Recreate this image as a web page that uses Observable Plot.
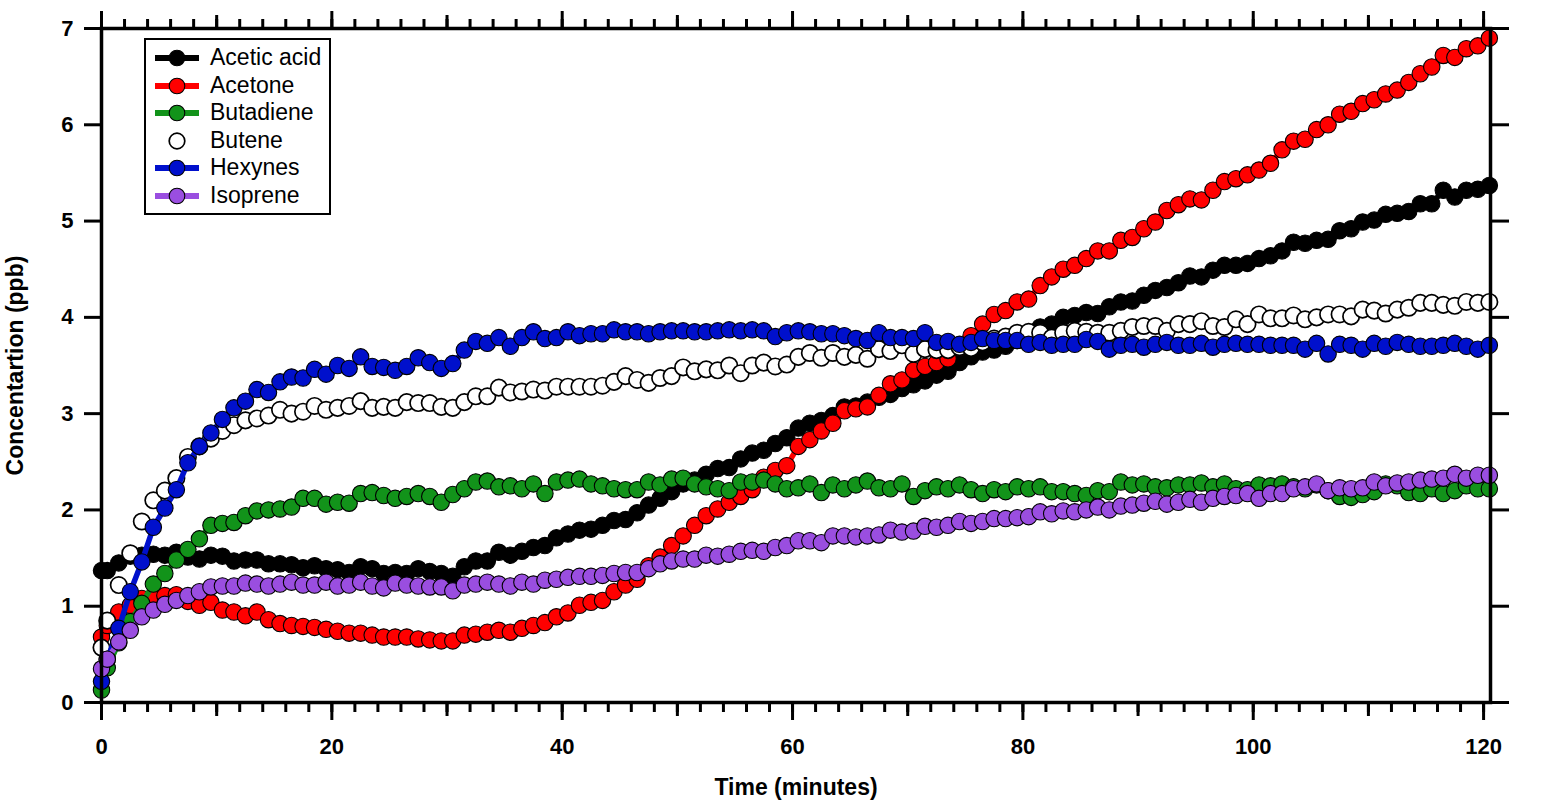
<!DOCTYPE html>
<html>
<head>
<meta charset="utf-8">
<script src="https://cdn.jsdelivr.net/npm/d3@7"></script>
<script src="https://cdn.jsdelivr.net/npm/@observablehq/plot@0.6"></script>
<style>
  html, body { margin: 0; padding: 0; background: #fff; }
  #wrap { position: relative; width: 1553px; height: 802px; font-family: "Liberation Sans", Arial, sans-serif; }
  #legend { position: absolute; left: 144px; top: 38px; width: 187px; height: 177px; box-sizing: border-box;
            border: 2px solid #000; background: #fff; }
  .lrow { position: absolute; left: 0; height: 28px; width: 183px; }
  .lrow svg { position: absolute; left: 4px; top: 0; }
  .lrow span { position: absolute; left: 64px; top: 50%; transform: translateY(-52%); font-size: 23px; color: #000; white-space: nowrap; }
</style>
</head>
<body>
<div id="wrap"><div id="chart"></div><div id="legend"></div></div>
<script>
// ---- data (minutes, ppb) ----
const time = [0, 0.5,
  1.5, 2.5, 3.5, 4.5, 5.5, 6.5, 7.5, 8.5, 9.5, 10.5,
  11.5, 12.5, 13.5, 14.5, 15.5, 16.5, 17.5, 18.5, 19.5, 20.5,
  21.5, 22.5, 23.5, 24.5, 25.5, 26.5, 27.5, 28.5, 29.5, 30.5,
  31.5, 32.5, 33.5, 34.5, 35.5, 36.5, 37.5, 38.5, 39.5, 40.5,
  41.5, 42.5, 43.5, 44.5, 45.5, 46.5, 47.5, 48.5, 49.5, 50.5,
  51.5, 52.5, 53.5, 54.5, 55.5, 56.5, 57.5, 58.5, 59.5, 60.5,
  61.5, 62.5, 63.5, 64.5, 65.5, 66.5, 67.5, 68.5, 69.5, 70.5,
  71.5, 72.5, 73.5, 74.5, 75.5, 76.5, 77.5, 78.5, 79.5, 80.5,
  81.5, 82.5, 83.5, 84.5, 85.5, 86.5, 87.5, 88.5, 89.5, 90.5,
  91.5, 92.5, 93.5, 94.5, 95.5, 96.5, 97.5, 98.5, 99.5, 100.5,
  101.5, 102.5, 103.5, 104.5, 105.5, 106.5, 107.5, 108.5, 109.5, 110.5,
  111.5, 112.5, 113.5, 114.5, 115.5, 116.5, 117.5, 118.5, 119.5, 120.5];

const aceticAcid = [1.37, 1.37,
  1.45, 1.52, 1.53, 1.54, 1.53, 1.56, 1.51, 1.49, 1.53, 1.52,
  1.47, 1.48, 1.48, 1.44, 1.44, 1.43, 1.40, 1.42, 1.39, 1.38,
  1.35, 1.41, 1.39, 1.34, 1.35, 1.34, 1.39, 1.36, 1.34, 1.31,
  1.41, 1.47, 1.47, 1.56, 1.53, 1.57, 1.61, 1.63, 1.71, 1.75,
  1.79, 1.80, 1.84, 1.89, 1.90, 1.97, 2.05, 2.12, 2.19, 2.27,
  2.31, 2.37, 2.43, 2.44, 2.53, 2.59, 2.62, 2.69, 2.75, 2.85,
  2.90, 2.93, 2.98, 3.07, 3.08, 3.12, 3.17, 3.20, 3.26, 3.30,
  3.34, 3.40, 3.44, 3.53, 3.59, 3.64, 3.66, 3.70, 3.76, 3.83,
  3.90, 3.93, 4.00, 4.02, 4.05, 4.04, 4.11, 4.16, 4.17, 4.23,
  4.28, 4.31, 4.36, 4.43, 4.42, 4.49, 4.54, 4.54, 4.56, 4.61,
  4.64, 4.69, 4.78, 4.77, 4.80, 4.81, 4.90, 4.92, 4.99, 5.01,
  5.07, 5.08, 5.10, 5.18, 5.18, 5.32, 5.25, 5.32, 5.33, 5.37];

const acetone = [0.68, 0.80,
  0.94, 1.01, 1.08, 1.09, 1.11, 1.12, 1.05, 1.01, 1.04, 0.96,
  0.94, 0.90, 0.94, 0.86, 0.82, 0.80, 0.79, 0.78, 0.76, 0.74,
  0.72, 0.72, 0.70, 0.68, 0.68, 0.68, 0.66, 0.65, 0.64, 0.64,
  0.70, 0.71, 0.73, 0.75, 0.73, 0.77, 0.80, 0.83, 0.89, 0.93,
  1.01, 1.04, 1.06, 1.15, 1.22, 1.28, 1.42, 1.51, 1.63, 1.73,
  1.84, 1.94, 2.01, 2.08, 2.14, 2.21, 2.34, 2.41, 2.46, 2.66,
  2.73, 2.82, 2.90, 3.03, 3.05, 3.07, 3.19, 3.31, 3.35, 3.45,
  3.49, 3.53, 3.57, 3.68, 3.81, 3.93, 4.03, 4.07, 4.16, 4.19,
  4.33, 4.42, 4.50, 4.54, 4.61, 4.69, 4.69, 4.80, 4.83, 4.92,
  4.99, 5.11, 5.17, 5.23, 5.22, 5.32, 5.41, 5.44, 5.48, 5.53,
  5.60, 5.74, 5.83, 5.85, 5.95, 6.00, 6.11, 6.14, 6.22, 6.26,
  6.32, 6.36, 6.44, 6.53, 6.60, 6.72, 6.70, 6.79, 6.82, 6.90];

const butadiene = [0.13, 0.36,
  0.62, 0.84, 1.03, 1.23, 1.34, 1.48, 1.59, 1.70, 1.84, 1.86,
  1.87, 1.94, 1.99, 2.00, 2.01, 2.03, 2.12, 2.12, 2.06, 2.08,
  2.07, 2.17, 2.18, 2.15, 2.12, 2.14, 2.17, 2.14, 2.08, 2.16,
  2.22, 2.29, 2.30, 2.24, 2.25, 2.22, 2.27, 2.17, 2.29, 2.31,
  2.32, 2.27, 2.25, 2.22, 2.21, 2.21, 2.29, 2.26, 2.32, 2.33,
  2.27, 2.24, 2.22, 2.20, 2.29, 2.29, 2.31, 2.27, 2.22, 2.23,
  2.27, 2.18, 2.26, 2.22, 2.26, 2.30, 2.23, 2.22, 2.27, 2.14,
  2.20, 2.24, 2.22, 2.26, 2.21, 2.17, 2.21, 2.19, 2.24, 2.22,
  2.24, 2.19, 2.19, 2.17, 2.15, 2.20, 2.19, 2.29, 2.26, 2.27,
  2.24, 2.23, 2.26, 2.26, 2.28, 2.24, 2.27, 2.22, 2.21, 2.26,
  2.25, 2.27, 2.24, 2.22, 2.26, 2.20, 2.14, 2.13, 2.16, 2.19,
  2.27, 2.25, 2.18, 2.17, 2.22, 2.17, 2.20, 2.25, 2.22, 2.22];

const butene = [0.57, 0.85,
  1.22, 1.55, 1.88, 2.10, 2.20, 2.33, 2.55, 2.66, 2.74, 2.82,
  2.88, 2.93, 2.95, 2.98, 3.04, 3.00, 3.02, 3.08, 3.04, 3.06,
  3.08, 3.13, 3.06, 3.07, 3.06, 3.12, 3.11, 3.11, 3.07, 3.06,
  3.12, 3.18, 3.18, 3.27, 3.22, 3.23, 3.25, 3.24, 3.28, 3.28,
  3.28, 3.28, 3.29, 3.33, 3.39, 3.35, 3.32, 3.37, 3.39, 3.48,
  3.44, 3.46, 3.45, 3.50, 3.42, 3.50, 3.53, 3.49, 3.51, 3.59,
  3.63, 3.58, 3.63, 3.59, 3.61, 3.57, 3.67, 3.65, 3.71, 3.62,
  3.67, 3.66, 3.66, 3.69, 3.68, 3.74, 3.78, 3.80, 3.84, 3.85,
  3.84, 3.79, 3.84, 3.86, 3.85, 3.84, 3.84, 3.86, 3.90, 3.91,
  3.91, 3.86, 3.93, 3.93, 3.96, 3.91, 3.90, 3.98, 3.93, 4.03,
  3.99, 3.99, 4.02, 3.98, 4.00, 4.03, 4.03, 4.01, 4.08, 4.07,
  4.04, 4.08, 4.10, 4.15, 4.15, 4.13, 4.12, 4.16, 4.15, 4.16];

const hexynes = [0.22, 0.45,
  0.77, 1.15, 1.46, 1.82, 2.02, 2.21, 2.49, 2.66, 2.80, 2.94,
  3.06, 3.13, 3.25, 3.22, 3.33, 3.38, 3.37, 3.46, 3.41, 3.50,
  3.47, 3.59, 3.49, 3.48, 3.45, 3.49, 3.58, 3.53, 3.47, 3.52,
  3.66, 3.75, 3.73, 3.79, 3.70, 3.79, 3.85, 3.78, 3.79, 3.85,
  3.81, 3.83, 3.83, 3.87, 3.85, 3.85, 3.83, 3.85, 3.86, 3.86,
  3.85, 3.85, 3.86, 3.87, 3.86, 3.87, 3.86, 3.80, 3.84, 3.86,
  3.85, 3.83, 3.83, 3.81, 3.78, 3.76, 3.84, 3.79, 3.79, 3.78,
  3.84, 3.74, 3.75, 3.72, 3.74, 3.78, 3.76, 3.76, 3.76, 3.72,
  3.74, 3.71, 3.72, 3.72, 3.77, 3.75, 3.67, 3.71, 3.72, 3.69,
  3.72, 3.74, 3.71, 3.71, 3.73, 3.69, 3.72, 3.73, 3.72, 3.72,
  3.71, 3.71, 3.71, 3.67, 3.73, 3.62, 3.72, 3.71, 3.67, 3.73,
  3.70, 3.74, 3.72, 3.70, 3.70, 3.71, 3.73, 3.70, 3.67, 3.71];

const isoprene = [0.35, 0.45,
  0.63, 0.75, 0.89, 0.96, 1.02, 1.06, 1.11, 1.15, 1.20, 1.21,
  1.21, 1.24, 1.23, 1.21, 1.23, 1.25, 1.22, 1.22, 1.25, 1.21,
  1.22, 1.25, 1.21, 1.19, 1.24, 1.22, 1.21, 1.20, 1.20, 1.16,
  1.22, 1.23, 1.25, 1.23, 1.21, 1.25, 1.23, 1.27, 1.28, 1.30,
  1.31, 1.31, 1.32, 1.34, 1.35, 1.35, 1.39, 1.44, 1.47, 1.49,
  1.49, 1.53, 1.52, 1.54, 1.57, 1.58, 1.57, 1.61, 1.63, 1.68,
  1.68, 1.66, 1.73, 1.73, 1.72, 1.73, 1.74, 1.79, 1.77, 1.78,
  1.83, 1.82, 1.84, 1.88, 1.86, 1.88, 1.91, 1.91, 1.92, 1.93,
  1.98, 1.96, 1.99, 1.98, 2.00, 2.03, 2.00, 2.04, 2.05, 2.07,
  2.09, 2.06, 2.08, 2.11, 2.08, 2.12, 2.14, 2.15, 2.17, 2.12,
  2.17, 2.17, 2.22, 2.24, 2.27, 2.20, 2.23, 2.22, 2.23, 2.29,
  2.25, 2.28, 2.29, 2.31, 2.32, 2.33, 2.37, 2.33, 2.36, 2.36];

const seriesNames = ["Acetic acid", "Acetone", "Butadiene", "Butene", "Hexynes", "Isoprene"];
const seriesValues = [aceticAcid, acetone, butadiene, butene, hexynes, isoprene];
const seriesColors = ["#000000", "#ff0000", "#12931a", "#ffffff", "#0010cc", "#9a4ee0"];
const seriesHasLine = [true, true, true, false, true, true];

const xMinorTicks = d3.range(0, 121, 2);
const xMidTicks = [10, 30, 50, 70, 90, 110];
const xMajorTicks = [0, 20, 40, 60, 80, 100, 120];
const yTicks = [0, 1, 2, 3, 4, 5, 6, 7];

// ---- build ----
const FONT = "'Liberation Sans', Arial, sans-serif";
const marks = [];
seriesNames.forEach((name, k) => {
  const rows = time.map((t, i) => ({t, v: seriesValues[k][i]}));
  if (seriesHasLine[k]) {
    marks.push(Plot.line(rows, {x: "t", y: "v", stroke: seriesColors[k], strokeWidth: 5.5}));
  }
  marks.push(Plot.dot(rows, {x: "t", y: "v", r: 8.2, fill: seriesColors[k], stroke: "#000",
    strokeWidth: name === "Butene" ? 1.7 : 1.1}));
});

const tickStyle = {strokeWidth: 3, stroke: "#000"};
const chart = Plot.plot({
  width: 1553,
  height: 802,
  marginLeft: 101,
  marginRight: 63,
  marginTop: 28,
  marginBottom: 100,
  style: {fontFamily: FONT, background: "#fff", color: "#000"},
  x: {domain: [0, 120.6]},
  y: {domain: [0, 7]},
  marks: [
    ...marks,
    Plot.axisX({ticks: xMinorTicks, anchor: "bottom", tickSize: 10, fill: "none", ...tickStyle}),
    Plot.axisX({ticks: xMidTicks, anchor: "bottom", tickSize: 14, fill: "none", ...tickStyle}),
    Plot.axisX({ticks: xMajorTicks, anchor: "bottom", tickSize: 18, tickPadding: 18, label: null,
      tickFormat: d3.format("d"), fontSize: 22, fontWeight: "bold", ...tickStyle}),
    Plot.axisX({ticks: xMinorTicks, anchor: "top", tickSize: 10, fill: "none", ...tickStyle}),
    Plot.axisX({ticks: xMidTicks, anchor: "top", tickSize: 14, fill: "none", ...tickStyle}),
    Plot.axisX({ticks: xMajorTicks, anchor: "top", tickSize: 18, fill: "none", ...tickStyle}),
    Plot.axisY({ticks: yTicks, anchor: "left", tickSize: 17, tickPadding: 11, label: null,
      tickFormat: d3.format("d"), fontSize: 22, fontWeight: "bold", ...tickStyle}),
    Plot.axisY({ticks: yTicks, anchor: "right", tickSize: 18, fill: "none", ...tickStyle}),
    Plot.frame({stroke: "#000", strokeWidth: 3.5}),
    Plot.text(["Time (minutes)"], {text: d => d, frameAnchor: "bottom", dy: 85, lineAnchor: "middle",
      fontSize: 23, fontWeight: "bold", fill: "#000"}),
    Plot.text(["Concentartion (ppb)"], {text: d => d, frameAnchor: "left", dx: -86, rotate: -90,
      textAnchor: "middle", lineAnchor: "middle", fontSize: 23, fontWeight: "bold", fill: "#000"})
  ]
});
document.getElementById("chart").appendChild(chart);

// ---- legend (HTML overlay) ----
const legend = document.getElementById("legend");
seriesNames.forEach((name, k) => {
  const row = document.createElement("div");
  row.className = "lrow";
  row.style.top = (4 + k * 27.6) + "px";
  const ns = "http://www.w3.org/2000/svg";
  const svg = document.createElementNS(ns, "svg");
  svg.setAttribute("width", 56); svg.setAttribute("height", 28);
  if (seriesHasLine[k]) {
    const ln = document.createElementNS(ns, "line");
    ln.setAttribute("x1", 5); ln.setAttribute("x2", 49); ln.setAttribute("y1", 14); ln.setAttribute("y2", 14);
    ln.setAttribute("stroke", seriesColors[k]); ln.setAttribute("stroke-width", 6);
    svg.appendChild(ln);
  }
  const c = document.createElementNS(ns, "circle");
  c.setAttribute("cx", 27); c.setAttribute("cy", 14); c.setAttribute("r", 7.8);
  c.setAttribute("fill", seriesColors[k]); c.setAttribute("stroke", "#000");
  c.setAttribute("stroke-width", name === "Butene" ? 1.7 : 1.1);
  svg.appendChild(c);
  const sp = document.createElement("span");
  sp.textContent = name;
  row.appendChild(svg); row.appendChild(sp);
  legend.appendChild(row);
});
</script>
</body>
</html>
